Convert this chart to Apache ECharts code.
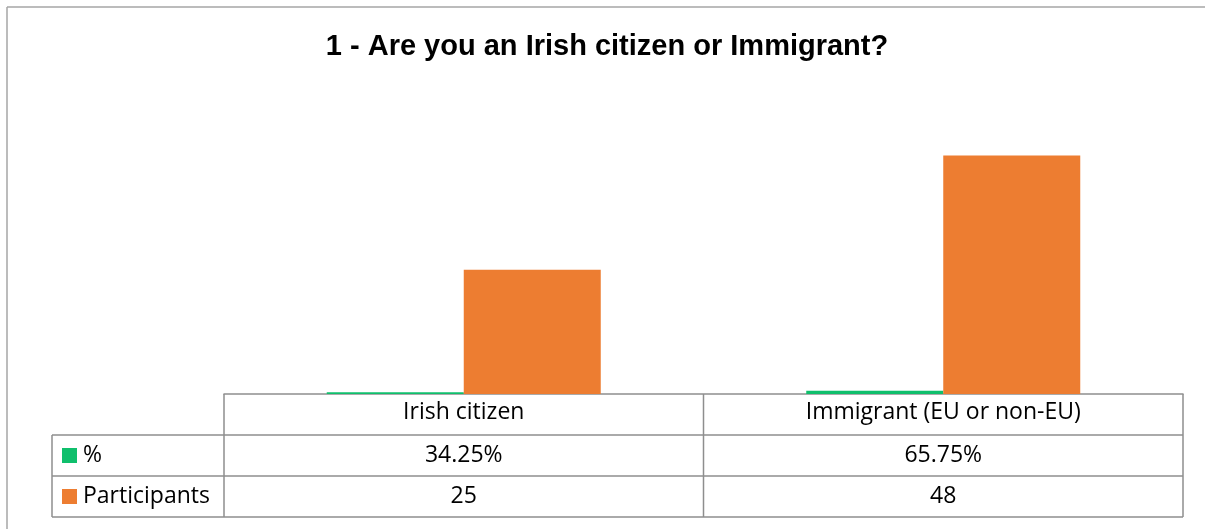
<!DOCTYPE html>
<html>
<head>
<meta charset="utf-8">
<script src="https://cdn.jsdelivr.net/npm/echarts@6/dist/echarts.min.js"></script>
<style>
  html, body { margin: 0; padding: 0; background: #ffffff; }
  #chart { width: 1205px; height: 529px; }
</style>
</head>
<body>
<div id="chart"></div>
<script>
// Survey question 1: citizenship of participants
const categories = ['Irish citizen', 'Immigrant (EU or non-EU)'];
const seriesNames = ['%', 'Participants'];
const percentValues = [0.3425, 0.6575];
const participantValues = [25, 48];
const percentLabels = ['34.25%', '65.75%'];

const GREEN = '#0FBF6C';
const ORANGE = '#ED7D31';
const LINE = '#8E8E8E';
const TEXT = '#000000';
const TABLE_FONT = '"Open Sans", Lato, sans-serif';
const TABLE_SIZE = 23;

const chart = echarts.init(document.getElementById('chart'), null, { renderer: 'canvas' });

const grid = { left: 224, right: 22, top: 96, bottom: 135 };

chart.setOption({
  animation: false,
  backgroundColor: '#ffffff',
  grid: grid,
  xAxis: {
    type: 'category',
    data: categories,
    axisLine: { show: true, lineStyle: { color: LINE, width: 1.5 } },
    axisTick: { show: false },
    axisLabel: {
      margin: 7,
      fontFamily: TABLE_FONT,
      fontSize: TABLE_SIZE,
      color: TEXT
    }
  },
  yAxis: {
    type: 'value',
    min: 0,
    max: 60,
    interval: 10,
    show: false,
    splitLine: { show: false }
  },
  series: [
    {
      name: seriesNames[0],
      type: 'bar',
      data: percentValues,
      barWidth: 137,
      barGap: '0%',
      itemStyle: { color: GREEN }
    },
    {
      name: seriesNames[1],
      type: 'bar',
      data: participantValues,
      barWidth: 137,
      barGap: '0%',
      itemStyle: { color: ORANGE }
    }
  ]
});

// Data table drawn beneath the axis, aligned to the category bands
const W = 1205, H = 529;
const x0 = grid.left, x1 = W - grid.right;
const yAxisLine = H - grid.bottom;
const rowH = 41;
const rowY = [yAxisLine, yAxisLine + rowH, yAxisLine + 2 * rowH, yAxisLine + 3 * rowH];
const legendLeft = 52;

const centers = categories.map(c => chart.convertToPixel({ xAxisIndex: 0 }, c));
const divider = (centers[0] + centers[1]) / 2;

const graphics = [];
function hLine(xa, xb, y) {
  graphics.push({ type: 'line', silent: true, shape: { x1: xa, y1: y, x2: xb, y2: y }, style: { stroke: LINE, lineWidth: 1.5 } });
}
function vLine(x, ya, yb) {
  graphics.push({ type: 'line', silent: true, shape: { x1: x, y1: ya, x2: x, y2: yb }, style: { stroke: LINE, lineWidth: 1.5 } });
}
function text(str, x, y, align) {
  graphics.push({
    type: 'text', silent: true, x: x, y: y,
    style: { text: str, fill: TEXT, font: TABLE_SIZE + 'px ' + TABLE_FONT, textAlign: align, textVerticalAlign: 'middle' }
  });
}

// Title
graphics.push({
  type: 'text', silent: true, x: 607, y: 47,
  style: {
    text: '1 - Are you an Irish citizen or Immigrant?',
    fill: '#000000',
    font: 'bold 29px "Liberation Sans", Arial, sans-serif',
    textAlign: 'center',
    textVerticalAlign: 'middle'
  }
});

// Outer chart frame
graphics.push({ type: 'line', silent: true, shape: { x1: 7, y1: 7, x2: W, y2: 7 }, style: { stroke: '#A6A6A6', lineWidth: 1.5 } });
graphics.push({ type: 'line', silent: true, shape: { x1: 7, y1: 7, x2: 7, y2: H }, style: { stroke: '#A6A6A6', lineWidth: 1.5 } });

// Table grid lines
hLine(legendLeft, x1, rowY[1]);
hLine(legendLeft, x1, rowY[2]);
hLine(legendLeft, x1, rowY[3]);
vLine(x0, rowY[0], rowY[3]);
vLine(divider, rowY[0], rowY[3]);
vLine(x1, rowY[0], rowY[3]);
vLine(legendLeft, rowY[1], rowY[3]);

// Legend keys and series names
const keyColors = [GREEN, ORANGE];
seriesNames.forEach((name, i) => {
  const cy = (rowY[i + 1] + rowY[i + 2]) / 2;
  graphics.push({ type: 'rect', silent: true, shape: { x: 62, y: cy - 7.5, width: 15, height: 15 }, style: { fill: keyColors[i] } });
  text(name, 83, cy, 'left');
});

// Table values
const rows = [percentLabels, participantValues.map(String)];
rows.forEach((vals, r) => {
  const cy = (rowY[r + 1] + rowY[r + 2]) / 2;
  vals.forEach((v, c) => text(v, centers[c], cy, 'center'));
});

chart.setOption({ graphic: { elements: graphics } });
</script>
</body>
</html>
